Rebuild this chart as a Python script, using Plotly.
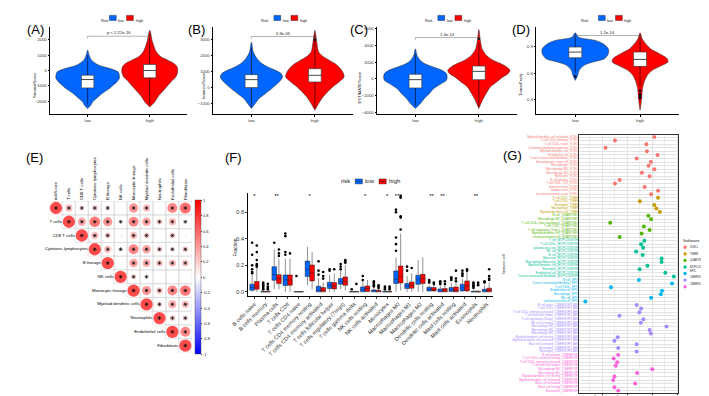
import plotly.graph_objects as go

W, H = 709, 396
def PX(v): return v / W
def PY(v): return 1 - v / H

FONT = "Liberation Sans, Arial, sans-serif"
LOW_C = "#0066FF"
HIGH_C = "#FF0000"

# ======================= DATA: panels A-D =======================
risk_groups = ["low", "high"]
score_titles = ["StromalScore", "ImmuneScore", "ESTIMATEScore", "TumorPurity"]
p_texts = ["p < 2.22e-16", "5.9e-05", "1.4e-14", "1.2e-14"]
p_bracket = [2242, 3208, 4898, 1.024]
score_ticks = [[-2000, -1000, 0, 1000, 2000],
               [-1000, 0, 1000, 2000, 3000],
               [-4000, -2000, 0, 2000, 4000, 6000],
               [0.3, 0.6, 0.9]]

# violin outlines: score levels and half-widths
stromal_low_lvl = [1329, 1002, 675, 348, 131, -87, -305, -523, -741, -959, -1176, -1394, -1612, -1830, -2048, -2266, -2484]
stromal_low_hw = [0, 0.024, 0.063, 0.18, 0.36, 0.49, 0.51, 0.51, 0.47, 0.41, 0.35, 0.27, 0.2, 0.14, 0.08, 0.05, 0]
stromal_high_lvl = [2636, 1874, 1220, 893, 675, 458, 240, -87, -414, -741, -1068, -1394, -1721, -2048, -2375]
stromal_high_hw = [0, 0.044, 0.105, 0.18, 0.29, 0.39, 0.44, 0.45, 0.42, 0.34, 0.27, 0.2, 0.13, 0.08, 0]
immune_low_lvl = [2854, 2229, 1812, 1500, 1292, 1083, 875, 667, 458, 250, -62, -375, -688, -1000, -1312]
immune_low_hw = [0, 0.03, 0.09, 0.17, 0.26, 0.38, 0.47, 0.49, 0.46, 0.41, 0.32, 0.22, 0.12, 0.06, 0]
immune_high_lvl = [3583, 2854, 2229, 1917, 1708, 1500, 1292, 979, 667, 354, 42, -271, -583, -1000, -1417]
immune_high_hw = [0, 0.03, 0.06, 0.14, 0.23, 0.32, 0.38, 0.44, 0.46, 0.38, 0.28, 0.2, 0.13, 0.06, 0]
estimate_low_lvl = [3565, 2780, 2192, 1800, 1408, 1016, 624, 232, -161, -553, -1141, -1729, -2317, -2905, -3494]
estimate_low_hw = [0, 0.026, 0.077, 0.15, 0.28, 0.42, 0.49, 0.5, 0.49, 0.41, 0.29, 0.22, 0.14, 0.08, 0]
estimate_high_lvl = [5839, 4741, 3565, 2780, 2192, 1800, 1408, 1016, 624, 232, -357, -945, -1533, -2317, -3494]
estimate_high_hw = [0, 0.02, 0.05, 0.12, 0.23, 0.35, 0.44, 0.49, 0.46, 0.38, 0.28, 0.18, 0.13, 0.07, 0]
purity_low_lvl = [1.054, 1.005, 0.968, 0.930, 0.874, 0.818, 0.762, 0.724, 0.687, 0.631, 0.574, 0.518]
purity_low_hw = [0, 0.05, 0.31, 0.43, 0.51, 0.51, 0.45, 0.27, 0.135, 0.06, 0.037, 0]
purity_high_lvl = [1.054, 0.987, 0.930, 0.874, 0.818, 0.762, 0.724, 0.687, 0.631, 0.574, 0.499, 0.424, 0.312, 0.181]
purity_high_hw = [0, 0.033, 0.087, 0.16, 0.3, 0.42, 0.43, 0.34, 0.19, 0.11, 0.063, 0.037, 0.025, 0]

# box statistics: q1, median, q3, lower whisker, upper whisker
stromal_low_box = [-1133, -588, -305, -2266, 1000]
stromal_high_box = [-479, 0, 392, -2250, 2400]
immune_low_box = [0, 500, 812, -1200, 2500]
immune_high_box = [354, 771, 1187, -1300, 3300]
estimate_low_box = [-1062, -82, 549, -3200, 3000]
estimate_high_box = [-82, 898, 1526, -3200, 4300]
purity_low_box = [0.773, 0.837, 0.893, 0.60, 1.04]
purity_high_box = [0.676, 0.754, 0.837, 0.45, 1.03]
stromal_low_out, stromal_high_out = [], []
immune_low_out, immune_high_out = [], [3000]
estimate_low_out, estimate_high_out = [], [4741]
purity_low_out, purity_high_out = [0.562], [0.40, 0.36, 0.34, 0.32]

# ======================= DATA: panel E =======================
e_names = ["riskScore", "T cells", "CD8 T cells", "Cytotoxic lymphocytes", "B lineage", "NK cells",
           "Monocytic lineage", "Myeloid dendritic cells", "Neutrophils", "Endothelial cells", "Fibroblasts"]
r_riskScore = [1, .35, .17, .24, .17, .02, .57, .35, .05, .66, .8]
r_Tcells = [1, .46, .75, .57, .1, .66, .5, .24, .35, .1]
r_CD8 = [1, .35, .24, .07, .35, .24, .03, .24, .05]
r_Cytotoxic = [1, .35, .14, .66, .5, .24, .17, .24]
r_Blineage = [1, .03, .5, .42, .3, .35, .3]
r_NK = [1, .19, .07, .03, .02, .02]
r_Monocytic = [1, .57, .3, .66, .75]
r_Myeloid = [1, .19, .42, .35]
r_Neutrophils = [1, .24, .19]
r_Endothelial = [1, .66]
r_Fibroblasts = [1]
e_nonsig = [("riskScore", "NK cells"), ("riskScore", "Neutrophils"), ("CD8 T cells", "NK cells"),
            ("CD8 T cells", "Neutrophils"), ("CD8 T cells", "Fibroblasts"), ("B lineage", "NK cells"),
            ("NK cells", "Neutrophils"), ("NK cells", "Endothelial cells"), ("NK cells", "Fibroblasts")]
e_colorbar_ticks = [1, 0.8, 0.6, 0.4, 0.2, 0, -0.2, -0.4, -0.6, -0.8, -1]

# ======================= DATA: panel F =======================
f_cells = ["B cells naive", "B cells memory", "Plasma cells", "T cells CD8", "T cells CD4 naive",
           "T cells CD4 memory resting", "T cells CD4 memory activated", "T cells follicular helper",
           "T cells regulatory (Tregs)", "T cells gamma delta", "NK cells resting", "NK cells activated",
           "Monocytes", "Macrophages M0", "Macrophages M1", "Macrophages M2", "Dendritic cells resting",
           "Dendritic cells activated", "Mast cells resting", "Mast cells activated", "Eosinophils", "Neutrophils"]
low_q1 = [0.0125, 0, 0.0875, 0.0475, 0, 0.115, 0, 0.025, 0.0575, 0, 0, 0, 0, 0.0625, 0.025, 0.0575, 0.0075, 0, 0.0025, 0.0075, 0, 0]
low_med = [0.0325, 0, 0.13, 0.09, 0, 0.17, 0.015, 0.05, 0.0775, 0, 0.0175, 0.005, 0, 0.095, 0.0425, 0.09, 0.02, 0.005, 0.015, 0.03, 0, 0.005]
low_q3 = [0.0575, 0.005, 0.19, 0.1275, 0.002, 0.2325, 0.0425, 0.0725, 0.1, 0.003, 0.0375, 0.015, 0.005, 0.1575, 0.0625, 0.125, 0.035, 0.0225, 0.0325, 0.0575, 0.005, 0.02]
low_lo = [0, 0, 0.02, 0, 0, 0.05, 0, 0, 0.02, 0, 0, 0, 0, 0, 0, 0, 0, 0, 0, 0, 0, 0]
low_hi = [0.13, 0.012, 0.32, 0.25, 0.005, 0.34, 0.1, 0.13, 0.16, 0.007, 0.08, 0.035, 0.012, 0.26, 0.12, 0.24, 0.05, 0.05, 0.07, 0.1, 0.012, 0.05]
low_out = [[0.37, 0.28, 0.2, 0.17, 0.15, 0.14], [0.07, 0.06, 0.05, 0.04, 0.03, 0.02], [0.37], [0.3, 0.28, 0.42, 0.44],
           [0.12], [], [0.23, 0.16, 0.13], [0.17, 0.16], [0.19, 0.21, 0.17], [0.02], [0.12, 0.09],
           [0.08, 0.07, 0.06, 0.05, 0.04], [0.04, 0.03, 0.02], [0.31, 0.36, 0.41, 0.6, 0.62], [0.16, 0.19], [],
           [0.09, 0.08, 0.07], [0.08, 0.07, 0.06], [0.11, 0.1, 0.09], [0.16, 0.14, 0.13, 0.12],
           [0.07, 0.06, 0.05, 0.04, 0.03], [0.08, 0.07]]
high_q1 = [0.02, 0, 0.0625, 0.05, 0, 0.0825, 0, 0.0225, 0.05, 0, 0.0025, 0, 0, 0.0675, 0.0275, 0.0625, 0.0075, 0, 0, 0.0075, 0, 0]
high_med = [0.037, 0, 0.1, 0.09, 0, 0.145, 0.012, 0.045, 0.08, 0, 0.025, 0.004, 0, 0.115, 0.05, 0.1, 0.015, 0.005, 0.01, 0.045, 0, 0.01]
high_q3 = [0.078, 0.005, 0.13, 0.1275, 0.002, 0.2025, 0.0325, 0.07, 0.1125, 0.003, 0.045, 0.0125, 0.005, 0.195, 0.075, 0.1325, 0.0325, 0.025, 0.0375, 0.0825, 0.005, 0.0275]
high_lo = [0, 0, 0.02, 0, 0, 0.02, 0, 0, 0.01, 0, 0, 0, 0, 0.01, 0, 0, 0, 0, 0, 0, 0, 0]
high_hi = [0.18, 0.012, 0.25, 0.25, 0.005, 0.3, 0.07, 0.14, 0.2, 0.007, 0.09, 0.03, 0.012, 0.44, 0.14, 0.26, 0.06, 0.055, 0.07, 0.15, 0.012, 0.07]
high_out = [[0.35, 0.3, 0.24, 0.21, 0.2, 0.19], [0.06, 0.04, 0.03, 0.02], [0.29, 0.32, 0.27], [0.29], [], [],
            [0.15, 0.12, 0.1], [0.17], [0.22, 0.24, 0.23], [0.06], [], [0.05, 0.04, 0.03], [0.04, 0.03, 0.02],
            [0.47, 0.56, 0.57, 0.71, 0.72], [0.18], [], [0.07, 0.06], [0.08, 0.06], [0.16, 0.1, 0.08],
            [0.16, 0.17], [0.07, 0.06, 0.05], [0.17, 0.12, 0.1, 0.09]]
f_signif = ["*", "", "**", "", "", "*", "", "", "", "", "*", "", "*", "***", "", "", "**", "**", "", "", "**", ""]
f_yticks = [0.0, 0.2, 0.4, 0.6]

# ======================= DATA: panel G =======================
g_software = ["XCELL", "TIMER", "QUANTISEQ", "MCPCOUNTER", "EPIC", "CIBERSORT-ABS", "CIBERSORT"]
g_colors = ["#F8766D", "#C49A00", "#53B400", "#00C094", "#00B6EB", "#A58AFF", "#FB61D7"]
xcell_cells = ["Myeloid dendritic cell activated", "T cell CD4+ memory", "T cell CD4+ naive", "Common lymphoid progenitor",
               "Myeloid dendritic cell", "Endothelial cell", "Cancer associated fibroblast", "Hematopoietic stem cell",
               "Macrophage", "Macrophage M1", "Macrophage M2", "Monocyte", "B cell plasma", "T cell CD4+ Th2",
               "Immune score", "stroma score", "microenvironment score"]
xcell_r = [0.109, -0.049, 0.077, -0.087, 0.079, 0.122, 0.038, 0.095, 0.086, 0.109, 0.059, 0.090, -0.030, -0.049, 0.070, 0.124, 0.096]
timer_cells = ["T cell CD4+", "T cell CD8+", "Neutrophil", "Macrophage", "Myeloid dendritic cell"]
timer_r = [0.124, 0.051, 0.109, 0.117, 0.131]
quantiseq_cells = ["B cell", "Macrophage M2", "T cell CD4+ (non-regulatory)", "T cell CD8+", "T cell regulatory (Tregs)",
                   "Myeloid dendritic cell", "uncharacterized cell"]
quantiseq_r = [0.085, 0.096, -0.068, 0.067, 0.090, 0.058, -0.030]
mcp_cells = ["T cell", "T cell CD8+", "cytotoxicity score", "NK cell", "B cell", "Monocyte", "Macrophage/Monocyte",
             "Myeloid dendritic cell", "Neutrophil", "Endothelial cell", "Cancer associated fibroblast"]
mcp_r = [0.069, 0.056, 0.064, 0.036, 0.062, 0.138, 0.138, 0.081, 0.050, 0.153, 0.187]
epic_cells = ["B cell", "Cancer associated fibroblast", "T cell CD8+", "Endothelial cell", "Macrophage", "NK cell",
              "uncharacterized cell"]
epic_r = [0.047, 0.180, -0.065, 0.140, 0.135, 0.096, -0.168]
cibabs_cells = ["B cell naive", "T cell CD8+", "T cell CD4+ memory activated", "T cell follicular helper",
                "T cell regulatory (Tregs)", "NK cell activated", "Macrophage M0", "Macrophage M1", "Macrophage M2",
                "Myeloid dendritic cell resting", "Myeloid dendritic cell activated", "Mast cell activated",
                "Eosinophil", "Neutrophil"]
cibabs_r = [0.038, 0.056, 0.049, -0.031, 0.065, 0.055, 0.158, 0.090, 0.095, -0.038, -0.051, 0.038, -0.036, 0.038]
cib_cells = ["B cell plasma", "T cell CD4+ memory resting", "T cell CD4+ memory activated", "T cell follicular helper",
             "Macrophage M0", "Macrophage M1", "Myeloid dendritic cell resting", "Myeloid dendritic cell activated",
             "Mast cell activated", "Mast cell resting", "Eosinophil"]
cib_r = [-0.036, -0.054, -0.040, -0.046, 0.101, 0.040, -0.051, -0.056, 0.032, -0.051, -0.036]
g_xticks = [-0.1, 0.0, 0.1, 0.2]

# ======================= FIGURE =======================
fig = go.Figure()
annotations = []
shapes = []
layout = dict(width=W, height=H, margin=dict(l=0, r=0, t=0, b=0), paper_bgcolor="white",
              plot_bgcolor="white", font=dict(family=FONT, color="#333333"), showlegend=False)

def ax_names(n):
    return ("x" if n == 1 else f"x{n}", "y" if n == 1 else f"y{n}",
            "xaxis" if n == 1 else f"xaxis{n}", "yaxis" if n == 1 else f"yaxis{n}")

def ann(x, y, text, size, **kw):
    d = dict(x=PX(x), y=PY(y), xref="paper", yref="paper", text=text, showarrow=False, borderpad=0,
             font=dict(size=size, family=FONT, color=kw.pop("color", "black")))
    d.update(kw)
    annotations.append(d)

# ---------------- panels A-D ----------------
top_violins = [
    (stromal_low_lvl, stromal_low_hw, stromal_high_lvl, stromal_high_hw, stromal_low_box, stromal_high_box, stromal_low_out, stromal_high_out),
    (immune_low_lvl, immune_low_hw, immune_high_lvl, immune_high_hw, immune_low_box, immune_high_box, immune_low_out, immune_high_out),
    (estimate_low_lvl, estimate_low_hw, estimate_high_lvl, estimate_high_hw, estimate_low_box, estimate_high_box, estimate_low_out, estimate_high_out),
    (purity_low_lvl, purity_low_hw, purity_high_lvl, purity_high_hw, purity_low_box, purity_high_box, purity_low_out, purity_high_out),
]
top_dom_x = [(26, 166), (193, 336), (361, 504), (524, 670)]
top_dom_y = (18, 106)
top_range = [[-2870, 2850], [-1688, 3812], [-4200, 6153], [0.133, 1.121]]
ytitle_x = [6, 178.5, 343, 511]
panel_lbl = ["(A)", "(B)", "(C)", "(D)"]
panel_lbl_x = [1, 166, 332, 498]
BOX_HW = 0.1

for i in range(4):
    n = i + 1
    xa, ya, xk, yk = ax_names(n)
    lo_l, lo_w, hi_l, hi_w, lo_b, hi_b, lo_o, hi_o = top_violins[i]
    for cx, lv, hw, col, bx, outs in [(1, lo_l, lo_w, LOW_C, lo_b, lo_o), (2, hi_l, hi_w, HIGH_C, hi_b, hi_o)]:
        xs = [cx + w for w in hw] + [cx - w for w in hw[::-1]]
        ys = list(lv) + list(lv[::-1])
        fig.add_trace(go.Scatter(x=xs, y=ys, mode="lines", fill="toself", fillcolor=col,
                                 line=dict(color="#222222", width=0.5, shape="spline", smoothing=0.8),
                                 xaxis=xa, yaxis=ya, hoverinfo="skip"))
        q1, med, q3, wlo, whi = bx
        fig.add_trace(go.Scatter(x=[cx, cx], y=[wlo, whi], mode="lines", line=dict(color="black", width=0.6),
                                 xaxis=xa, yaxis=ya, hoverinfo="skip"))
        fig.add_trace(go.Scatter(x=[cx - BOX_HW, cx + BOX_HW, cx + BOX_HW, cx - BOX_HW, cx - BOX_HW],
                                 y=[q1, q1, q3, q3, q1], mode="lines", fill="toself", fillcolor="white",
                                 line=dict(color="#333333", width=0.6), xaxis=xa, yaxis=ya, hoverinfo="skip"))
        fig.add_trace(go.Scatter(x=[cx - BOX_HW, cx + BOX_HW], y=[med, med], mode="lines",
                                 line=dict(color="#333333", width=0.9), xaxis=xa, yaxis=ya, hoverinfo="skip"))
        if outs:
            fig.add_trace(go.Scatter(x=[cx] * len(outs), y=outs, mode="markers",
                                     marker=dict(color="black", size=2.5), xaxis=xa, yaxis=ya))
    rng = top_range[i]
    tip = (rng[1] - rng[0]) * 0.025
    b = p_bracket[i]
    fig.add_trace(go.Scatter(x=[1, 1, 2, 2], y=[b - tip, b, b, b - tip], mode="lines",
                             line=dict(color="#666666", width=0.5), xaxis=xa, yaxis=ya))
    annotations.append(dict(x=1.5, y=b, xref=xa, yref=ya, text=p_texts[i], showarrow=False, borderpad=0,
                            yanchor="bottom", yshift=0, font=dict(size=4.2, family=FONT, color="#222")))
    layout[xk] = dict(domain=[PX(top_dom_x[i][0]), PX(top_dom_x[i][1])], range=[0.4, 2.6], anchor=ya,
                      tickvals=[1, 2], ticktext=risk_groups, showline=True, linecolor="black", linewidth=0.5,
                      ticks="outside", ticklen=2, tickwidth=0.5, tickcolor="black",
                      tickfont=dict(size=4.3, color="#333"), showgrid=False, zeroline=False)
    layout[yk] = dict(domain=[PY(top_dom_y[1]), PY(top_dom_y[0])], range=rng, anchor=xa,
                      tickvals=score_ticks[i], showline=True, linecolor="black", linewidth=0.5,
                      ticks="outside", ticklen=2, tickwidth=0.5, tickcolor="black",
                      tickfont=dict(size=4.3, color="#333"), showgrid=False, zeroline=False)
    ann(ytitle_x[i], 62, score_titles[i], 4.2, textangle=-90, color="#222")
    ann(panel_lbl_x[i], 12, panel_lbl[i], 13, xanchor="left")
    cx_px = (top_dom_x[i][0] + top_dom_x[i][1]) / 2
    ly = 9
    ann(cx_px - 19, ly, "Risk", 3.8, color="#222")
    for k, (g, col) in enumerate(zip(risk_groups, [LOW_C, HIGH_C])):
        x0 = cx_px - 9.5 + k * 17.5
        shapes.append(dict(type="rect", xref="paper", yref="paper", x0=PX(x0), x1=PX(x0 + 7),
                           y0=PY(ly + 2.6), y1=PY(ly - 2.6), fillcolor=col, line=dict(color="#222", width=0.4)))
        ann(x0 + 8.2, ly, g, 3.8, xanchor="left", color="#222")

# ---------------- panel E ----------------
e_rows = [r_riskScore, r_Tcells, r_CD8, r_Cytotoxic, r_Blineage, r_NK, r_Monocytic, r_Myeloid,
          r_Neutrophils, r_Endothelial, r_Fibroblasts]
ex, ey, er, sx, sy = [], [], [], [], []
for i, row in enumerate(e_rows):
    for k, r in enumerate(row):
        j = i + k
        ex.append(j); ey.append(i); er.append(r)
        if (e_names[i], e_names[j]) not in e_nonsig:
            sx.append(j); sy.append(i)
xa, ya, xk, yk = ax_names(5)
fig.add_trace(go.Scatter(x=ex, y=ey, mode="markers", xaxis=xa, yaxis=ya,
                         marker=dict(symbol="square-open", size=13.6, color="#D0D0D0", line=dict(width=0.5))))
fig.add_trace(go.Scatter(
    x=ex, y=ey, mode="markers", xaxis=xa, yaxis=ya,
    marker=dict(size=[12.3 * abs(r) ** 0.5 for r in er], color=er, cmin=-1, cmax=1,
                colorscale=[[0, "#0000FF"], [0.5, "#FFFFFF"], [1, "#FF0000"]], line=dict(width=0),
                showscale=True,
                colorbar=dict(x=PX(174), xanchor="left", y=PY(269.7), yanchor="middle", len=154,
                              lenmode="pixels", thickness=6, xpad=0, ypad=0, outlinewidth=0.4,
                              outlinecolor="#444", tickvals=e_colorbar_ticks,
                              ticktext=[f"{t:g}" for t in e_colorbar_ticks], ticks="outside", ticklen=1.5,
                              tickwidth=0.4, tickfont=dict(size=4, color="#222")))))
fig.add_trace(go.Scatter(x=sx, y=sy, mode="markers", xaxis=xa, yaxis=ya,
                         marker=dict(symbol="asterisk-open", size=3.2, color="black", line=dict(width=0.6, color="black"))))
fig.add_trace(go.Scatter(x=[i - 0.55 for i in range(len(e_names))], y=list(range(len(e_names))), mode="text",
                         text=e_names, textposition="middle left", cliponaxis=False, xaxis=xa, yaxis=ya,
                         textfont=dict(size=4.3, color="black", family=FONT)))
layout[xk] = dict(domain=[PX(25.1), PX(170.9)], range=[-0.5, 10.5], anchor=ya, side="top",
                  tickvals=list(range(len(e_names))), ticktext=e_names, tickangle=-90,
                  tickfont=dict(size=4.3, color="black"), showgrid=False, zeroline=False, showline=False, ticks="")
layout[yk] = dict(domain=[PY(345.2), PY(193.1)], range=[10.5, -0.5], anchor=xa, visible=False)
ann(0, 149, "(E)", 13, xanchor="left")

# ---------------- panel F ----------------
xa, ya, xk, yk = ax_names(6)
F_OFF, F_W = 0.21, 0.42
idx = list(range(len(f_cells)))
for sign, q1, med, q3, lo, hi, outs, col in [(-1, low_q1, low_med, low_q3, low_lo, low_hi, low_out, LOW_C),
                                              (1, high_q1, high_med, high_q3, high_lo, high_hi, high_out, HIGH_C)]:
    pos = [i + sign * F_OFF for i in idx]
    fig.add_trace(go.Box(x=pos, q1=q1, median=med, q3=q3, lowerfence=lo, upperfence=hi, orientation="v",
                         width=F_W, fillcolor=col, line=dict(color="#222222", width=0.5), whiskerwidth=0,
                         boxpoints=False, xaxis=xa, yaxis=ya, hoverinfo="skip"))
    ox, oy = [], []
    for i, o in enumerate(outs):
        ox += [pos[i]] * len(o); oy += o
    fig.add_trace(go.Scatter(x=ox, y=oy, mode="markers", marker=dict(color="black", size=2.6),
                             xaxis=xa, yaxis=ya))
star_y = 0.722
fig.add_trace(go.Scatter(x=idx, y=[star_y] * len(idx), text=f_signif, mode="text", xaxis=xa, yaxis=ya,
                         textfont=dict(size=6, color="black"), cliponaxis=False))
layout[xk] = dict(domain=[PX(228.3), PX(480)], range=[-0.6, 21.6], anchor=ya, tickvals=idx, ticktext=f_cells,
                  tickangle=-45, tickfont=dict(size=5.5, color="#333"), showline=True, linecolor="black",
                  linewidth=0.5, ticks="outside", ticklen=2, tickwidth=0.5, showgrid=False, zeroline=False)
layout[yk] = dict(domain=[PY(288.5), PY(185)], range=[-0.0315, 0.745], anchor=xa, tickvals=f_yticks,
                  ticktext=[f"{t:.1f}" for t in f_yticks], tickfont=dict(size=5.5, color="#333"),
                  showline=True, linecolor="black", linewidth=0.5, ticks="outside", ticklen=2, tickwidth=0.5,
                  showgrid=False, zeroline=False)
ann(210.7, 240, "Fraction", 5, textangle=-90, color="#222")
ann(204, 149, "(F)", 13, xanchor="left")
ann(323, 173.3, "risk", 6, xanchor="left", color="#222")
for k, (g, col) in enumerate(zip(risk_groups, [LOW_C, HIGH_C])):
    x0 = 338.3 + k * 24.4
    shapes.append(dict(type="rect", xref="paper", yref="paper", x0=PX(x0), x1=PX(x0 + 7.4),
                       y0=PY(175.8), y1=PY(170.8), fillcolor=col, line=dict(color="#222", width=0.4)))
    shapes.append(dict(type="line", xref="paper", yref="paper", x0=PX(x0), x1=PX(x0 + 7.4),
                       y0=PY(173.3), y1=PY(173.3), line=dict(color="#222", width=0.5)))
    ann(x0 + 9.5, 173.3, g, 6, xanchor="left", color="#222")

# ---------------- panel G ----------------
xa, ya, xk, yk = ax_names(7)
g_groups = [(xcell_cells, xcell_r), (timer_cells, timer_r), (quantiseq_cells, quantiseq_r), (mcp_cells, mcp_r),
            (epic_cells, epic_r), (cibabs_cells, cibabs_r), (cib_cells, cib_r)]
g_labels, g_lcolors = [], []
row = 0
for (cells, rs), sw, col in zip(g_groups, g_software, g_colors):
    ys = list(range(row, row + len(cells)))
    fig.add_trace(go.Scatter(x=rs, y=ys, mode="markers", marker=dict(color=col, size=4), xaxis=xa, yaxis=ya))
    g_labels += [f"{c}_{sw}" for c in cells]
    g_lcolors += [col] * len(cells)
    row += len(cells)
g_range = [-0.193, 0.205]
fig.add_trace(go.Scatter(x=[g_range[0]] * row, y=list(range(row)), mode="text", text=g_labels,
                         textposition="middle left", cliponaxis=False, xaxis=xa, yaxis=ya,
                         textfont=dict(size=3, color=g_lcolors, family=FONT)))
# x tick labels just below the panel frame
fig.add_trace(go.Scatter(x=g_xticks, y=[row - 0.5 + 0.8] * len(g_xticks), mode="text",
                         text=[f"{t:.1f}" for t in g_xticks], textposition="middle center", cliponaxis=False,
                         xaxis=xa, yaxis=ya, textfont=dict(size=3.5, color="#444", family=FONT)))
layout[xk] = dict(domain=[PX(567.7), PX(669.3)], range=g_range, anchor=ya, tickvals=g_xticks,
                  showticklabels=False,
                  showgrid=True, gridcolor="#E3E3E3", gridwidth=0.6,
                  minor=dict(tickvals=[-0.15, -0.05, 0.05, 0.15], showgrid=True, gridcolor="#EEEEEE", gridwidth=0.4),
                  showline=True, mirror=True, linecolor="#333", linewidth=0.6, ticks="outside", ticklen=1.2,
                  tickwidth=0.4, tickcolor="#333", zeroline=False)
layout[yk] = dict(domain=[PY(385.5), PY(126.9)], range=[row - 0.5, -0.5], anchor=xa, tickvals=list(range(row)),
                  showticklabels=False, showgrid=True, gridcolor="#E3E3E3", gridwidth=0.5, showline=True,
                  mirror=True, linecolor="#333", linewidth=0.6, ticks="", zeroline=False)
ann(617, 392.9, "Correlation coefficient", 3.3, color="#222")
ann(494, 256, "Immune cell", 3.6, textangle=-90, color="#222")
ann(489, 147.5, "(G)", 13, xanchor="left")
ann(673.5, 232.6, "Software", 4.2, xanchor="left", color="#222")
for k, (sw, col) in enumerate(zip(g_software, g_colors)):
    yy = 239.5 + k * 6.6
    shapes.append(dict(type="circle", xref="paper", yref="paper", x0=PX(676.3 - 1.7), x1=PX(676.3 + 1.7),
                       y0=PY(yy + 1.7), y1=PY(yy - 1.7), fillcolor=col, line=dict(width=0)))
    ann(680.2, yy, sw, 2.6, xanchor="left", color="#222")

layout["annotations"] = annotations
layout["shapes"] = shapes
fig.update_layout(**layout)
fig.write_html("out.html")
